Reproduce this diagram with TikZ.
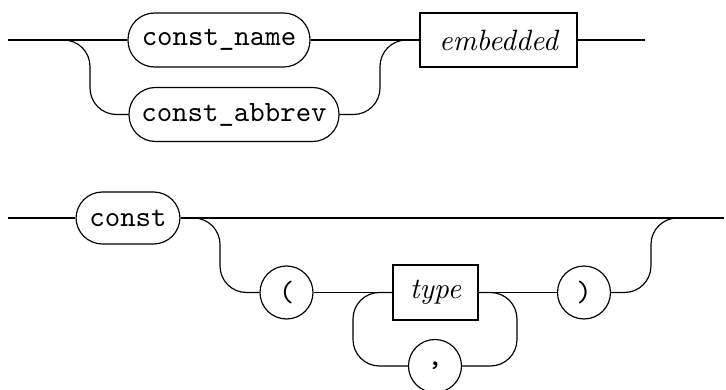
\documentclass[tikz,border=0pt]{standalone}
\begin{document}
\begin{tikzpicture}[x=0.34pt,y=-0.34pt,
  termbox/.style={draw, rounded corners=9pt, font=\ttfamily, inner sep=0pt, minimum height=54*0.34pt},
  ntbox/.style={draw, font=\itshape, inner sep=0pt, minimum height=54*0.34pt},
  termcirc/.style={draw, circle, font=\ttfamily, inner sep=0pt, minimum size=53*0.34pt},
  rail/.style={rounded corners=9pt}]
\useasboundingbox (0,0) rectangle (726,390);
% top diagram
\coordinate (s1) at (8,40);
\coordinate (e1) at (645,40);
\node[termbox, minimum width=182*0.34pt] (cn) at (219,40) {const\_name};
\node[termbox, minimum width=210*0.34pt] (ca) at (234,114.5) {const\_abbrev};
\node[ntbox, minimum width=157*0.34pt] (emb) at (498.5,40) {embedded};
\draw (s1) -- (cn.west);
\draw[rail] (62,40) -| (90,114.5) -- (ca.west);
\draw (cn.east) -- (emb.west);
\draw[rail] (ca.east) -| (380,40) -- (emb.west);
\draw (emb.east) -- (e1);
% bottom diagram
\coordinate (s2) at (8,218);
\coordinate (e2) at (724,218);
\node[termbox, minimum width=104*0.34pt, minimum height=52*0.34pt] (cst) at (128,218) {const};
\node[termcirc] (lp) at (286.5,292.5) {(};
\node[ntbox, minimum width=85*0.34pt, minimum height=55*0.34pt] (ty) at (435.5,292.5) {type};
\node[termcirc] (cm) at (435,366) {,};
\node[termcirc] (rp) at (584,292.5) {)};
\draw (s2) -- (cst.west);
\draw (cst.east) -- (e2);
\draw[rail] (cst.east) -| (220,292.5) -- (lp.west);
\draw (lp.east) -- (ty.west);
\draw[rail] (cm.west) -| (353,292.5) -- (ty.west);
\draw[rail] (cm.east) -| (517,292.5) -- (ty.east);
\draw (ty.east) -- (rp.west);
\draw[rail] (rp.east) -| (651,218) -- (e2);
\end{tikzpicture}
\end{document}
